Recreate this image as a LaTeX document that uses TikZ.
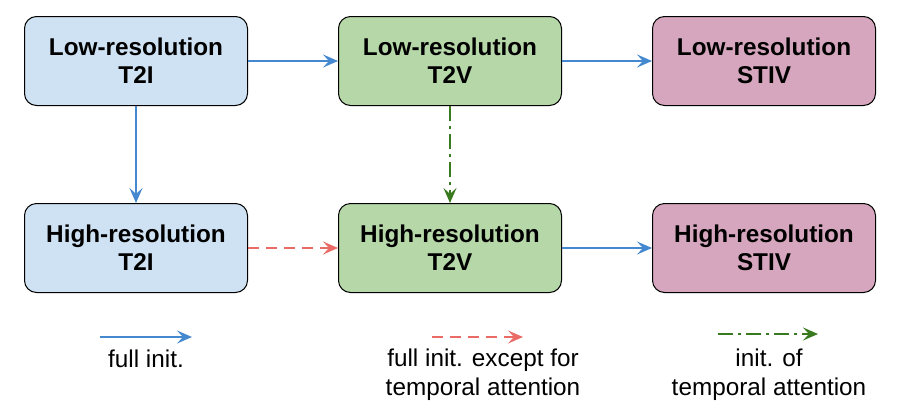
\documentclass[tikz,border=0pt]{standalone}
\usepackage{fontspec}
\setmainfont{Liberation Sans}
\usetikzlibrary{arrows.meta}
\definecolor{bluefill}{HTML}{CFE2F3}
\definecolor{greenfill}{HTML}{B6D7A8}
\definecolor{pinkfill}{HTML}{D5A6BD}
\definecolor{bluearr}{HTML}{4488D0}
\definecolor{redarr}{HTML}{EA6B66}
\definecolor{greenarr}{HTML}{3A7A1E}
\begin{document}
\begin{tikzpicture}[x=1pt,y=-1pt,
  box/.style={draw=black, line width=1pt, rounded corners=12pt, minimum width=223pt, minimum height=89pt, inner sep=0pt, align=center, font=\fontsize{24.3}{28}\selectfont\bfseries},
  legtext/.style={align=center, font=\fontsize{24.3}{29}\selectfont, inner sep=0pt},
  tip/.style={-{Stealth[length=15pt,width=13pt,inset=6pt]}},
  fullinit/.style={tip, draw=bluearr, line width=2.6pt},
  exceptta/.style={tip, draw=redarr, line width=2.6pt, dash pattern=on 11pt off 7pt},
  onlyta/.style={tip, draw=greenarr, line width=2.6pt, dash pattern=on 15pt off 5pt on 3pt off 5pt}]
\useasboundingbox (0,0) rectangle (902,413);
\node[box, fill=bluefill] (lt2i) at (136,61) {Low-resolution\\T2I};
\node[box, fill=greenfill] (lt2v) at (450,61) {Low-resolution\\T2V};
\node[box, fill=pinkfill] (lstiv) at (764,61) {Low-resolution\\STIV};
\node[box, fill=bluefill] (ht2i) at (136,248) {High-resolution\\T2I};
\node[box, fill=greenfill] (ht2v) at (450,248) {High-resolution\\T2V};
\node[box, fill=pinkfill] (hstiv) at (764,248) {High-resolution\\STIV};
\draw[fullinit] (lt2i) -- (lt2v);
\draw[fullinit] (lt2v) -- (lstiv);
\draw[fullinit] (lt2i) -- (ht2i);
\draw[onlyta] (lt2v) -- (ht2v);
\draw[exceptta] (ht2i) -- (ht2v);
\draw[fullinit] (ht2v) -- (hstiv);
% legend
\coordinate (b1) at (100,337);
\coordinate (b2) at (192,337);
\draw[fullinit] (b1) -- (b2);
\node[legtext] (lb) at (146,359) {full init.};
\coordinate (r1) at (432,337);
\coordinate (r2) at (523,337);
\draw[exceptta] (r1) -- (r2);
\node[legtext] (lr) at (483,375) {full init. except for\\temporal attention};
\coordinate (g1) at (718,334);
\coordinate (g2) at (818,334);
\draw[onlyta] (g1) -- (g2);
\node[legtext] (lg) at (769,375) {init. of\\temporal attention};
\end{tikzpicture}
\end{document}
